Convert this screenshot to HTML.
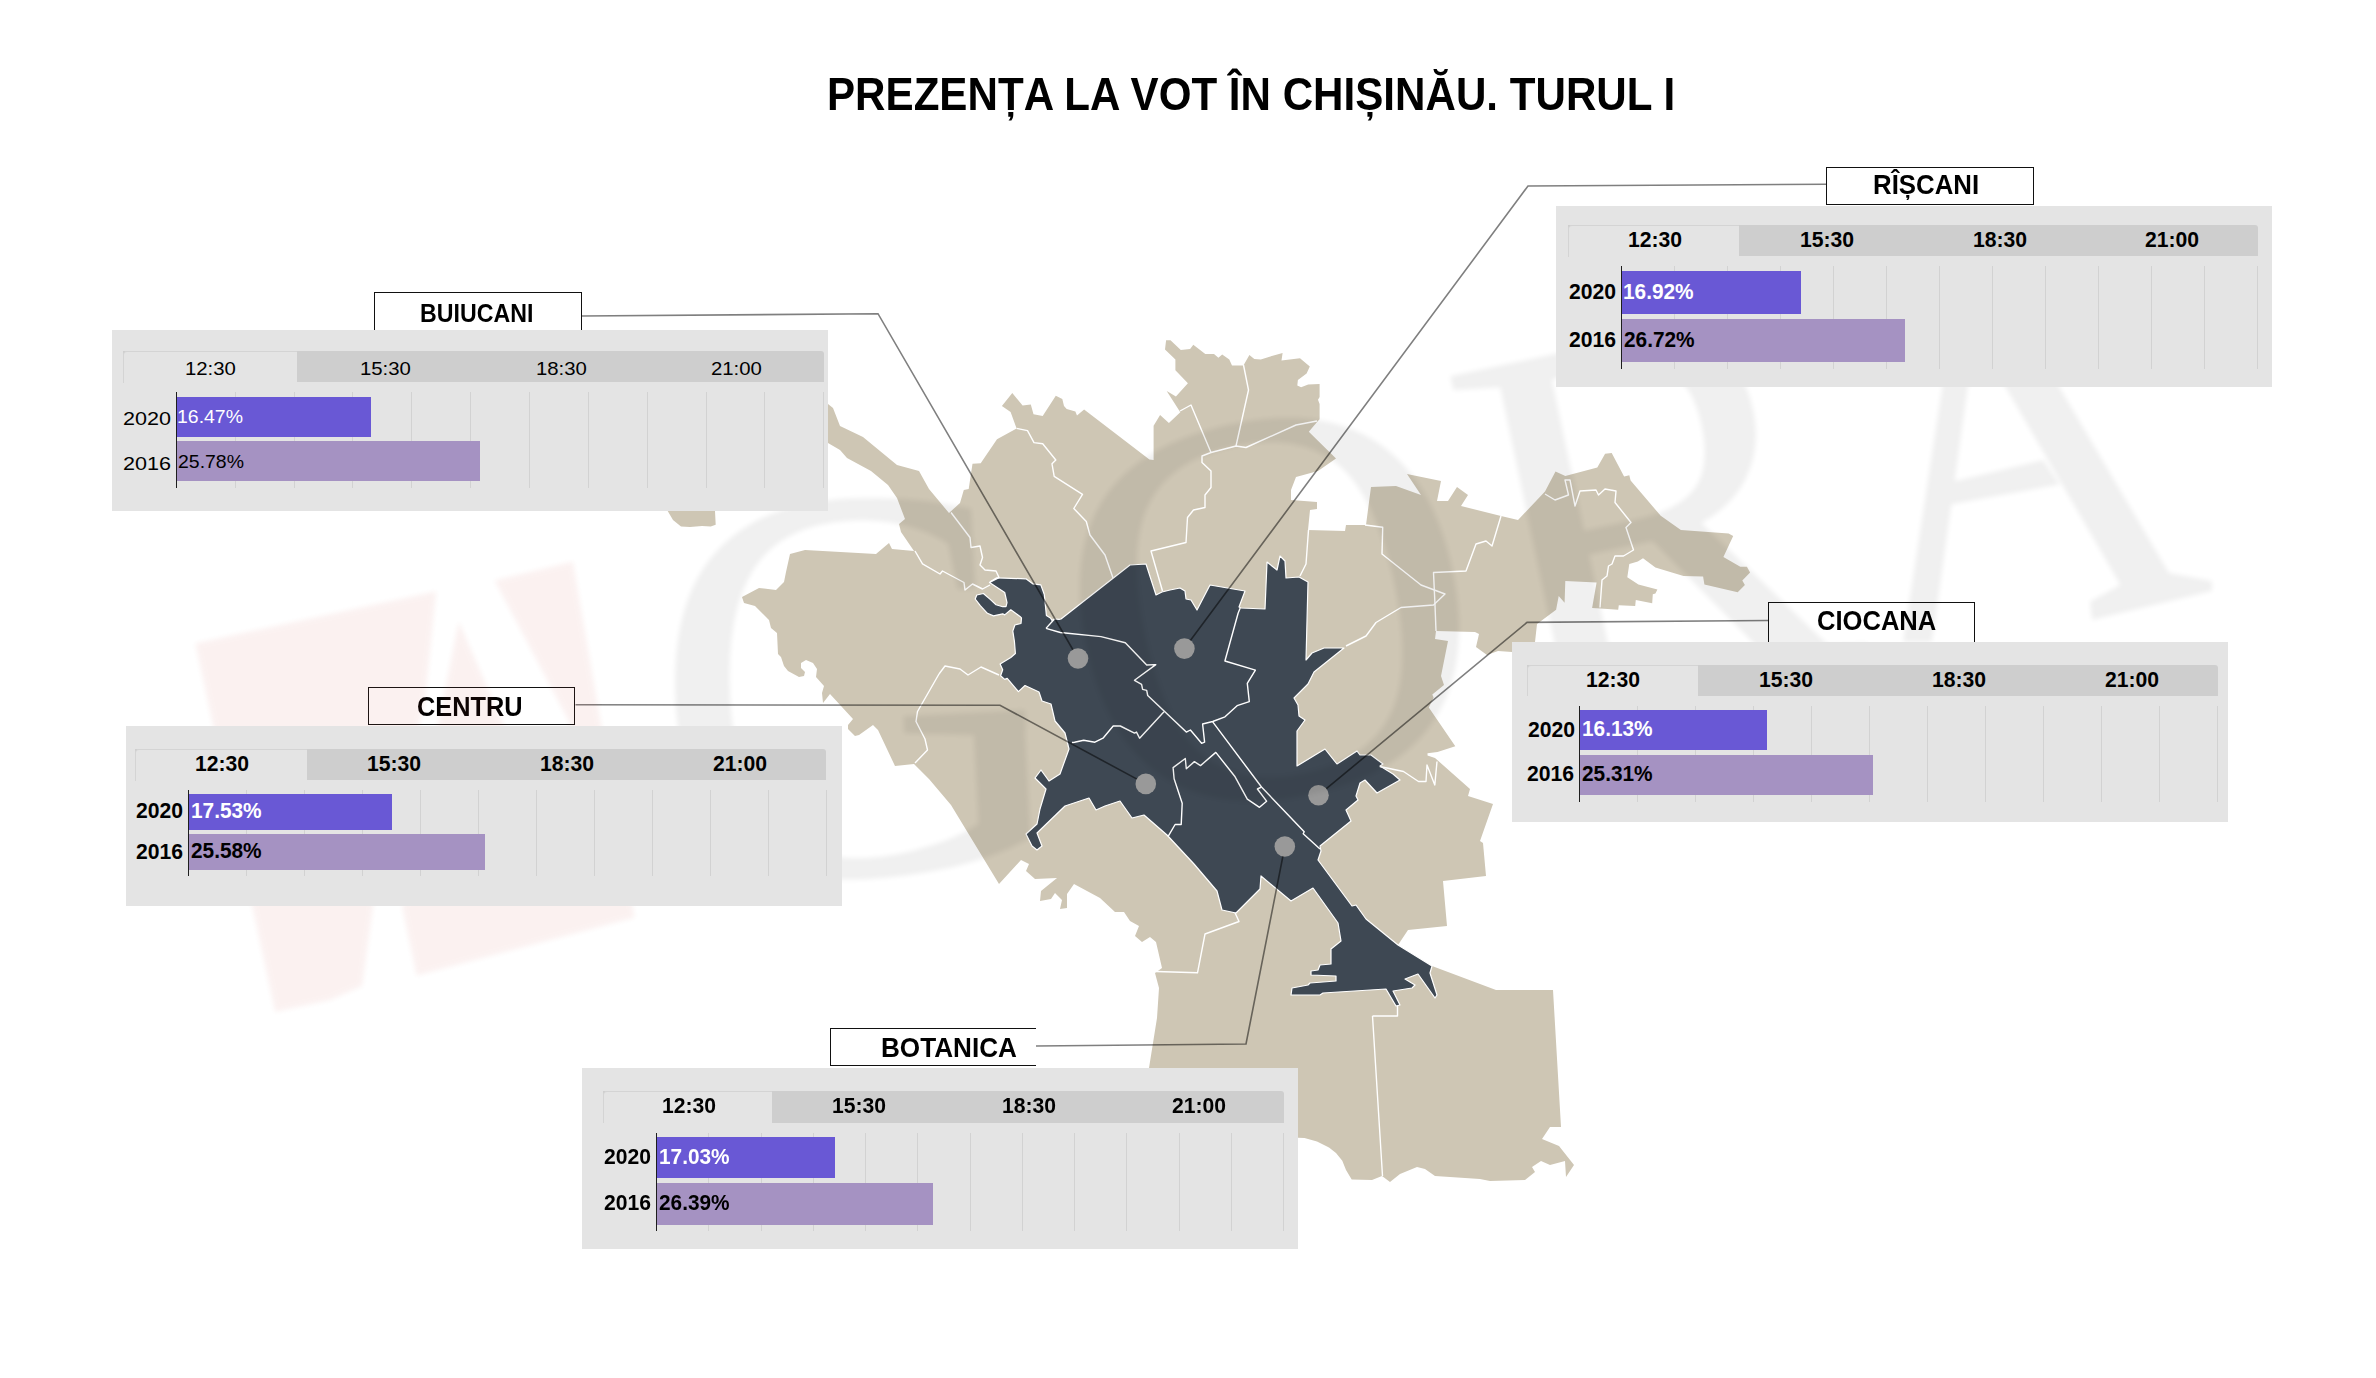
<!DOCTYPE html>
<html><head><meta charset="utf-8"><title>Prezența la vot în Chișinău</title>
<style>
html,body{margin:0;padding:0;background:#fff;}
body{width:2376px;height:1378px;position:relative;overflow:hidden;font-family:"Liberation Sans",sans-serif;color:#000;}
.a{position:absolute;}
.title{position:absolute;left:0;width:2502px;top:62px;text-align:center;font-weight:bold;font-size:46px;line-height:60px;white-space:nowrap;transform:scaleX(0.918);transform-origin:1251px 0;}
.box{position:absolute;background:#e4e4e4;}
.tabrow{position:absolute;background:#cecece;border-top-right-radius:3px;}
.tab1{position:absolute;background:#e4e4e4;border-top:1px solid #d4d4d4;border-left:1px solid #d4d4d4;border-top-left-radius:4px;box-sizing:border-box;}
.tt{position:absolute;text-align:center;font-size:22.5px;font-weight:bold;white-space:nowrap;}
.alt .tt{font-size:19px;}
.alt .tt{font-weight:normal;}
.g{position:absolute;width:1px;background:#d2d2d2;}
.ax{position:absolute;width:1.4px;background:#1e1e1e;}
.bar{position:absolute;}
.yr{position:absolute;text-align:right;font-size:22.5px;font-weight:bold;white-space:nowrap;}
.alt .yr{font-size:19px;}
.alt .yr{font-weight:normal;}
.val{position:absolute;font-size:22.5px;font-weight:bold;white-space:nowrap;transform-origin:0 50%;transform:scaleX(0.95);}
.alt .val{font-size:20px;transform:scaleX(1.05);}
.alt .val{font-weight:normal;}
.lbl{position:absolute;background:#fff;border:1px solid #111;box-sizing:border-box;text-align:center;font-weight:bold;font-size:27.5px;white-space:nowrap;}
.lbl span{display:inline-block;transform:scaleX(0.93);}
svg{position:absolute;left:0;top:0;}
</style></head><body>

<svg width="2376" height="1378" viewBox="0 0 2376 1378" xmlns="http://www.w3.org/2000/svg">
<polygon points="800.0,398.0 828.0,404.0 833.0,408.0 840.0,426.0 863.0,437.0 897.0,465.0 919.0,471.0 929.0,489.0 949.0,513.0 960.0,503.0 963.8,490.0 968.7,488.9 972.5,463.8 980.7,463.3 997.0,439.3 1016.6,428.4 1010.6,412.1 1001.9,406.1 1012.3,393.1 1022.6,405.6 1030.8,404.5 1033.5,414.3 1042.7,415.9 1055.8,395.8 1062.3,399.1 1064.0,406.1 1066.7,408.9 1075.4,411.6 1077.0,415.4 1084.1,409.4 1149.4,459.5 1153.6,460.1 1153.6,425.8 1160.1,414.9 1168.9,423.1 1180.3,412.2 1166.7,391.0 1175.9,396.4 1187.9,383.3 1175.4,370.3 1175.4,359.4 1165.0,349.6 1166.1,340.3 1170.5,340.3 1180.8,350.1 1190.1,349.1 1193.3,344.7 1205.3,354.0 1214.0,354.0 1218.4,357.8 1222.2,354.5 1229.3,359.4 1232.0,365.4 1243.4,365.4 1249.4,355.0 1254.3,358.9 1260.8,359.4 1269.6,356.7 1282.6,352.9 1281.5,360.5 1300.0,358.3 1309.8,366.5 1306.6,373.5 1297.9,380.1 1297.3,385.5 1301.1,387.2 1308.2,384.4 1319.6,383.9 1319.6,397.0 1318.0,399.7 1319.6,404.0 1319.6,419.3 1317.5,421.5 1308.8,431.8 1336.0,458.5 1318.0,471.0 1296.0,477.0 1291.0,490.0 1291.0,500.0 1317.0,502.0 1317.0,509.0 1310.0,510.0 1308.0,530.0 1345.0,531.0 1346.0,525.0 1366.0,525.0 1371.0,487.0 1396.0,486.0 1421.0,495.0 1407.0,474.0 1441.0,481.0 1437.0,501.0 1448.0,501.0 1457.0,487.0 1468.0,495.0 1461.0,506.0 1501.0,516.0 1518.0,520.0 1545.0,491.6 1555.5,471.4 1565.3,475.9 1597.3,467.4 1605.1,453.7 1611.7,453.1 1624.1,476.6 1629.3,475.3 1630.6,480.5 1660.7,515.8 1680.9,530.1 1728.6,533.4 1733.2,536.0 1723.4,556.9 1740.3,566.7 1746.9,566.7 1750.1,572.6 1742.3,580.5 1744.9,585.0 1737.7,592.2 1704.4,584.4 1703.1,576.5 1683.5,575.9 1655.4,567.4 1643.0,558.2 1637.8,561.5 1629.3,564.1 1627.3,577.2 1638.4,584.4 1657.4,589.6 1655.4,593.5 1652.8,594.2 1652.2,603.3 1635.8,600.0 1635.2,605.9 1618.8,605.3 1618.2,609.8 1600.6,608.5 1592.1,607.9 1596.6,582.4 1565.3,581.0 1564.6,602.7 1558.7,596.1 1556.1,609.8 1537.0,624.0 1535.0,642.0 1512.0,652.0 1498.0,651.0 1487.0,655.0 1476.0,647.0 1479.0,634.0 1475.0,632.0 1436.0,631.0 1435.0,639.0 1448.0,641.0 1441.0,676.0 1444.0,685.0 1432.3,694.4 1433.6,697.5 1428.8,707.5 1455.3,746.3 1437.5,752.0 1427.5,753.2 1427.5,755.4 1435.0,758.0 1470.0,789.0 1468.0,796.0 1493.0,804.0 1480.0,841.0 1483.0,843.0 1486.0,876.0 1443.0,881.0 1447.0,926.0 1408.0,930.0 1398.0,945.0 1432.0,966.0 1496.0,990.0 1553.0,990.0 1561.0,1127.0 1550.0,1127.0 1542.0,1139.0 1559.0,1146.0 1574.0,1165.0 1566.0,1177.0 1565.0,1161.0 1550.0,1165.0 1541.0,1161.0 1532.0,1167.0 1535.0,1172.0 1525.0,1180.0 1490.0,1181.0 1480.0,1179.0 1435.0,1176.0 1425.0,1169.0 1417.0,1167.0 1400.0,1174.0 1390.0,1182.0 1382.0,1176.0 1372.0,1180.0 1351.7,1179.6 1346.0,1170.0 1342.3,1160.8 1336.0,1153.0 1329.0,1147.5 1317.0,1141.5 1304.5,1138.1 1298.0,1137.7 1200.0,1137.0 1149.0,1068.0 1157.0,1018.0 1159.0,988.0 1155.0,973.0 1162.0,968.0 1156.0,942.0 1150.0,937.0 1142.0,942.0 1135.0,936.0 1139.0,926.0 1130.0,921.0 1124.0,912.0 1115.0,912.0 1100.0,898.0 1074.0,884.0 1067.0,894.0 1067.0,908.0 1060.0,909.0 1062.0,900.0 1055.0,893.0 1051.0,899.0 1040.0,901.0 1041.0,891.0 1057.0,878.0 1035.0,879.0 1026.0,871.0 1029.0,864.0 1021.0,860.0 999.0,884.0 951.0,805.0 929.0,779.0 920.0,770.0 914.0,764.0 895.0,766.0 878.0,730.0 873.0,725.0 859.0,735.0 855.0,736.0 848.0,729.0 848.0,725.0 853.0,719.0 830.0,694.0 823.0,703.0 822.0,693.0 824.0,686.0 816.0,677.0 817.0,669.0 813.0,663.0 806.0,660.0 801.0,663.0 801.0,668.0 805.0,672.0 804.0,676.0 799.0,677.0 788.0,671.0 784.0,666.0 781.0,657.0 778.0,654.0 777.0,633.0 771.0,628.0 769.0,620.0 766.0,617.0 755.0,606.0 744.0,603.0 742.0,597.0 759.0,588.0 776.0,590.0 784.0,582.0 786.0,572.0 790.0,554.0 805.0,550.0 876.0,554.0 889.0,543.0 892.0,549.0 914.0,551.0 901.0,532.0 899.0,524.0 905.0,519.0 897.0,498.0 888.0,485.0 871.0,471.0 847.0,458.0 840.0,450.0 828.0,443.0 800.0,440.0" fill="#cec6b4"/>
<polygon points="667.7,511.0 673.0,520.0 681.0,526.6 690.0,527.0 702.0,526.0 710.7,526.6 715.7,524.8 715.0,511.0" fill="#cec6b4"/>
<polygon points="989.5,582.4 996.6,577.8 1026.0,578.8 1033.0,583.9 1040.8,584.9 1044.3,594.5 1046.4,615.4 1050.4,617.9 1052.0,620.4 1055.0,619.0 1059.0,619.4 1061.0,619.0 1130.0,565.0 1146.0,564.0 1156.0,595.0 1162.0,592.0 1170.0,590.0 1175.0,589.0 1180.0,588.0 1185.0,591.0 1186.0,599.0 1191.0,600.0 1197.0,610.0 1210.0,585.0 1245.0,591.0 1239.0,607.0 1241.0,608.0 1265.0,609.0 1267.0,562.0 1277.0,570.0 1280.0,556.0 1285.0,561.0 1286.0,578.0 1299.0,577.0 1308.0,582.0 1306.0,660.0 1312.0,653.0 1324.0,648.0 1344.0,648.0 1314.0,672.0 1308.0,684.0 1294.0,698.0 1298.0,705.0 1299.0,716.0 1305.0,720.0 1297.0,731.0 1297.0,766.0 1325.0,749.0 1337.0,764.0 1357.0,751.0 1360.0,755.0 1371.0,755.0 1383.0,764.0 1380.0,766.0 1393.0,774.0 1400.0,780.0 1377.0,793.0 1365.0,780.0 1360.0,783.0 1356.0,796.0 1358.0,800.0 1346.0,810.0 1351.0,821.0 1320.0,846.0 1321.0,851.0 1318.0,860.0 1352.0,906.0 1356.0,905.0 1366.0,919.0 1398.0,945.0 1432.0,966.0 1430.0,973.0 1437.0,995.0 1435.0,998.0 1418.0,974.0 1405.0,979.0 1415.0,985.0 1412.0,988.0 1393.0,991.0 1400.0,1005.0 1396.0,1006.0 1386.0,989.0 1323.0,993.0 1320.0,995.0 1291.0,995.0 1292.0,988.0 1308.0,985.0 1310.0,983.0 1336.0,981.0 1336.0,976.0 1311.0,975.0 1311.0,971.0 1318.0,970.0 1320.0,965.0 1331.0,964.0 1331.0,949.0 1341.0,941.0 1338.0,923.0 1313.0,888.0 1291.0,901.0 1261.0,876.0 1260.0,889.0 1236.0,913.0 1222.0,910.0 1217.0,891.0 1194.0,864.0 1167.0,835.0 1144.0,815.0 1132.0,818.0 1120.0,801.0 1105.0,806.0 1096.0,810.0 1089.0,798.0 1065.0,806.0 1037.0,833.0 1042.0,846.0 1037.0,850.0 1032.0,846.0 1026.0,834.0 1037.0,824.0 1040.0,809.0 1046.0,789.0 1035.0,778.0 1041.0,770.0 1049.0,781.0 1060.0,774.0 1069.0,749.0 1065.0,733.0 1055.0,721.0 1051.0,704.0 1042.0,701.0 1039.0,692.0 1025.0,685.5 1018.4,691.6 1007.2,678.4 1004.7,679.4 1000.6,675.8 1002.7,669.7 1000.1,664.1 1010.8,657.5 1015.4,653.5 1014.4,641.3 1012.8,631.1 1014.9,625.0 1021.0,623.5 1021.5,617.9 1020.0,616.4 1010.8,609.8 1004.7,614.9 1002.7,613.8 993.5,615.9 987.4,613.3 980.3,605.7 975.2,599.0 976.8,595.0 983.4,593.5 990.5,599.6 996.0,604.7 1002.7,606.7 1006.0,606.7 1007.0,602.7 1004.7,592.5" fill="#3e4853" stroke="#fff" stroke-width="1.2" stroke-linejoin="round"/>
<polyline points="1046.0,628.4 1060.3,632.5 1101.0,636.6 1125.3,642.7 1146.7,665.0 1155.8,664.6 1134.5,680.3 1141.6,684.3 1142.6,689.4 1146.7,690.4 1147.7,695.5 1186.3,732.1 1190.4,730.0 1201.6,743.3 1204.6,742.2 1202.6,724.0 1212.7,721.5 1225.0,716.8 1237.1,705.7 1249.3,701.6 1247.3,683.3 1255.4,670.1 1224.9,661.0 1238.1,613.2 1240.2,608.1" fill="none" stroke="#fff" stroke-width="1.4" stroke-linejoin="round"/>
<polyline points="1046.0,628.4 1054.2,619.3" fill="none" stroke="#fff" stroke-width="1.4" stroke-linejoin="round"/>
<polyline points="1072.0,742.5 1074.5,742.2 1083.7,740.2 1094.9,742.2 1103.0,738.2 1113.2,726.0 1120.3,726.0 1134.5,733.1 1136.5,732.1 1139.6,738.2 1164.0,711.8" fill="none" stroke="#fff" stroke-width="1.4" stroke-linejoin="round"/>
<polyline points="1168.0,836.7 1175.1,824.5 1181.2,824.5 1182.2,803.2 1174.1,778.8 1173.1,767.6 1185.3,758.5 1186.3,768.7 1194.4,761.6 1200.5,765.6 1215.8,752.4 1235.1,776.8 1247.3,799.1 1259.5,807.3 1266.6,801.2 1257.4,789.0 1261.5,787.0" fill="none" stroke="#fff" stroke-width="1.4" stroke-linejoin="round"/>
<polyline points="1212.7,721.9 1261.5,787.0 1304.2,831.7 1303.2,833.7 1320.0,849.0" fill="none" stroke="#fff" stroke-width="1.4" stroke-linejoin="round"/>
<polyline points="951.0,512.5 970.0,537.5 971.0,547.5 980.0,546.0 982.5,557.5 980.0,565.0 985.0,570.0 996.0,571.0 999.0,577.5 990.0,582.0" fill="none" stroke="#fff" stroke-width="1.4" stroke-linejoin="round"/>
<polyline points="915.0,551.0 922.5,563.8 940.0,574.0 942.5,571.0 964.0,582.5 965.0,590.0 972.5,584.0 982.5,589.0 990.0,585.0" fill="none" stroke="#fff" stroke-width="1.4" stroke-linejoin="round"/>
<polyline points="1016.6,428.4 1027.5,430.6 1034.0,442.6 1042.7,443.7 1055.8,460.0 1052.0,463.8 1054.2,476.4 1082.5,494.3 1073.8,508.5 1086.3,521.5 1090.0,535.0 1105.0,555.0 1113.0,578.0" fill="none" stroke="#fff" stroke-width="1.4" stroke-linejoin="round"/>
<polyline points="1180.0,411.0 1191.0,405.0 1211.0,452.5 1202.0,456.0 1202.0,462.5 1211.0,471.0 1211.0,487.5 1205.0,495.0 1205.0,507.5 1193.5,510.0 1187.5,517.5 1186.0,542.5 1151.0,551.0 1162.5,591.0" fill="none" stroke="#fff" stroke-width="1.4" stroke-linejoin="round"/>
<polyline points="1211.0,452.5 1236.0,446.0 1246.0,447.5 1296.0,425.0 1317.0,421.0" fill="none" stroke="#fff" stroke-width="1.4" stroke-linejoin="round"/>
<polyline points="1243.5,365.0 1248.5,390.0 1236.0,446.0" fill="none" stroke="#fff" stroke-width="1.4" stroke-linejoin="round"/>
<polyline points="1308.5,530.0 1306.0,564.0 1300.0,576.0" fill="none" stroke="#fff" stroke-width="1.4" stroke-linejoin="round"/>
<polyline points="1365.0,525.0 1382.7,527.3 1382.0,554.0 1421.0,585.0 1445.0,594.0 1433.5,605.0 1401.0,607.5 1376.0,622.5 1366.0,636.0 1346.0,646.0" fill="none" stroke="#fff" stroke-width="1.4" stroke-linejoin="round"/>
<polyline points="1435.0,605.0 1433.5,572.5 1466.0,571.0 1476.0,544.0 1486.0,541.0 1492.0,546.0 1501.0,516.0" fill="none" stroke="#fff" stroke-width="1.4" stroke-linejoin="round"/>
<polyline points="1436.0,631.0 1435.0,605.0" fill="none" stroke="#fff" stroke-width="1.4" stroke-linejoin="round"/>
<polyline points="1545.0,494.0 1555.0,500.0 1568.5,495.0 1565.0,480.0 1570.0,480.0 1575.0,506.0 1580.0,491.0 1596.0,490.0 1598.5,495.0 1605.0,489.0 1616.0,491.0 1615.0,502.5 1631.0,522.5 1626.0,527.5 1633.5,550.0 1623.5,556.0 1615.0,556.0 1612.0,564.0 1608.5,566.0 1607.0,576.0 1602.0,580.0 1600.0,607.5" fill="none" stroke="#fff" stroke-width="1.4" stroke-linejoin="round"/>
<polyline points="939.0,674.0 917.5,711.5 916.0,721.5 925.0,739.0 927.5,750.0 915.0,763.0" fill="none" stroke="#fff" stroke-width="1.4" stroke-linejoin="round"/>
<polyline points="939.0,674.0 945.0,666.0 960.0,669.0 968.0,675.0 981.0,667.0 999.0,675.0" fill="none" stroke="#fff" stroke-width="1.4" stroke-linejoin="round"/>
<polyline points="1235.0,912.8 1239.0,921.5 1205.0,934.0 1197.5,972.8 1156.0,971.5" fill="none" stroke="#fff" stroke-width="1.4" stroke-linejoin="round"/>
<polyline points="1372.5,1016.0 1382.5,1176.0" fill="none" stroke="#fff" stroke-width="1.4" stroke-linejoin="round"/>
<polyline points="1372.5,1016.0 1397.5,1016.0 1397.5,1006.0" fill="none" stroke="#fff" stroke-width="1.4" stroke-linejoin="round"/>
<polyline points="1379.8,766.5 1403.5,771.5 1418.5,781.5 1426.0,781.5 1427.0,765.0 1434.8,785.0 1437.0,761.5" fill="none" stroke="#fff" stroke-width="1.4" stroke-linejoin="round"/>
<polyline points="581.4,316.0 878.0,313.7 1078.0,658.5" fill="none" stroke="#000" stroke-opacity="0.5" stroke-width="1.6"/>
<polyline points="1826.0,184.3 1528.0,186.0 1184.4,648.6" fill="none" stroke="#000" stroke-opacity="0.5" stroke-width="1.6"/>
<polyline points="575.5,704.8 1000.0,705.3 1145.8,783.9" fill="none" stroke="#000" stroke-opacity="0.5" stroke-width="1.6"/>
<polyline points="1768.2,620.5 1527.0,622.4 1318.5,795.2" fill="none" stroke="#000" stroke-opacity="0.5" stroke-width="1.6"/>
<polyline points="1036.0,1046.0 1246.0,1044.0 1284.8,846.5" fill="none" stroke="#000" stroke-opacity="0.5" stroke-width="1.6"/>
<circle cx="1078" cy="658.5" r="10.3" fill="#999999"/>
<circle cx="1184.4" cy="648.6" r="10.3" fill="#999999"/>
<circle cx="1145.8" cy="783.9" r="10.3" fill="#999999"/>
<circle cx="1318.5" cy="795.2" r="10.3" fill="#999999"/>
<circle cx="1284.8" cy="846.5" r="10.3" fill="#999999"/>
</svg>
<div style="position:absolute;left:826.85px;top:71.90px;font-size:45.65px;line-height:45.65px;font-weight:bold;white-space:nowrap;color:#000;transform:scaleX(0.9232);transform-origin:0 0;">PREZENȚA LA VOT ÎN CHIȘINĂU. TURUL I</div>
<div class="lbl" style="left:374.2px;top:292.2px;width:207.4px;height:39.8px;"></div>
<div style="position:absolute;left:420.28px;top:300.66px;font-size:25.22px;line-height:25.22px;font-weight:bold;white-space:nowrap;color:#000;transform:scaleX(0.9192);transform-origin:0 0;">BUIUCANI</div>
<div class="lbl" style="left:368.3px;top:686.5px;width:207.2px;height:38px;"></div>
<div style="position:absolute;left:417.19px;top:693.47px;font-size:27.68px;line-height:27.68px;font-weight:bold;white-space:nowrap;color:#000;transform:scaleX(0.9151);transform-origin:0 0;">CENTRU</div>
<div class="lbl" style="left:1826.1px;top:166.5px;width:207.5px;height:38px;"></div>
<div style="position:absolute;left:1872.79px;top:171.42px;font-size:27.97px;line-height:27.97px;font-weight:bold;white-space:nowrap;color:#000;transform:scaleX(0.923);transform-origin:0 0;">RÎȘCANI</div>
<div class="lbl" style="left:1768.3px;top:602.3px;width:207px;height:41.7px;"></div>
<div style="position:absolute;left:1816.88px;top:607.42px;font-size:27.97px;line-height:27.97px;font-weight:bold;white-space:nowrap;color:#000;transform:scaleX(0.914);transform-origin:0 0;">CIOCANA</div>
<div class="lbl" style="left:830.3px;top:1028.3px;width:205.7px;height:37.9px;border-right:none;"></div>
<div style="position:absolute;left:880.67px;top:1033.72px;font-size:27.39px;line-height:27.39px;font-weight:bold;white-space:nowrap;color:#000;transform:scaleX(0.9542);transform-origin:0 0;">BOTANICA</div>
<svg width="2376" height="1378" viewBox="0 0 2376 1378" xmlns="http://www.w3.org/2000/svg">
<defs><filter id="bl" x="-5%" y="-5%" width="110%" height="110%"><feGaussianBlur stdDeviation="2.5"/></filter></defs>
<g opacity="0.065" fill="#c83c32" filter="url(#bl)">
<path d="M195.4,643.4 L436.0,591.4 L425.0,700.0 L373.0,906.0 L362.0,986.0 L330.0,1000.0 L275.2,1011.7 Z M458.8,621.8 L510.0,740.0 L435.0,740.0 Z M494.7,580.5 L572.8,561.8 L634.4,917.4 L416.7,975.4 L402.0,906.0 L571.5,726.0 Z"/>
</g>
<g opacity="0.06" fill="#000" filter="url(#bl)">
<path d="M1955.6,300.0 L1980.0,300.0 L1937.5,603.5 L1931.7,642.0 L1903.0,642.0 L1909.0,603.5 Z M1955.0,300.0 L2008.0,300.0 L2169.0,573.0 L2120.4,585.0 Z M1951.8,482.0 L2043.2,460.0 L2059.5,484.5 L1947.7,505.0 Z M2090.0,601.5 L2120.4,585.0 L2169.0,573.0 L2212.0,581.0 L2212.0,591.0 L2092.0,620.0 Z"/>
<path d="M1410 100Q1290 40 1100 6.0Q918 -20 774 -20Q448 -20 266.0 156.0Q84 332 84 655Q84 1007 260.5 1181.5Q437 1356 778 1356Q1022 1356 1249 1296V1008H1182L1155 1174Q1086 1223 989.5 1249.5Q893 1276 786 1276Q530 1276 411.5 1123.5Q293 971 293 657Q293 362 415.0 209.5Q537 57 776 57Q900 57 1030 90Q1150 120 1215 160V480L950 500V560H1415V500L1410 480Z" transform="matrix(0.26164,-0.01371,-0.01450,-0.27662,663.05,884.43)"/>
<path d="M293 672Q293 349 401.0 204.0Q509 59 739 59Q968 59 1077.0 204.0Q1186 349 1186 672Q1186 993 1077.5 1134.5Q969 1276 739 1276Q508 1276 400.5 1134.5Q293 993 293 672ZM84 672Q84 1356 739 1356Q1063 1356 1229.0 1182.5Q1395 1009 1395 672Q1395 330 1227.0 155.0Q1059 -20 739 -20Q420 -20 252.0 154.5Q84 329 84 672Z" transform="matrix(0.27877,-0.05925,-0.05718,-0.26899,1101.83,833.08)"/>
<path d="M424 588V80L627 53V0H72V53L231 80V1262L59 1288V1341H638Q890 1341 1010.0 1256.0Q1130 1171 1130 983Q1130 849 1057.0 751.5Q984 654 855 616L1218 80L1363 53V0H1042L665 588ZM931 969Q931 1122 856.5 1186.5Q782 1251 595 1251H424V678H601Q780 678 855.5 744.5Q931 811 931 969Z" transform="matrix(0.26410,-0.05614,-0.05614,-0.26410,1510.04,733.60)"/>
</g>
</svg>
<div class="alt">
<div class="box" style="left:112px;top:330px;width:716px;height:181px"></div>
<div class="tabrow" style="left:123px;top:350.5px;width:700.6px;height:31.9px"></div>
<div class="tab1" style="left:123px;top:350.5px;width:174px;height:32.5px"></div>
<div style="position:absolute;left:185.22px;top:360.61px;font-size:17.7px;line-height:17.7px;font-weight:normal;white-space:nowrap;color:#000;transform:scaleX(1.15);transform-origin:0 0;">12:30</div>
<div style="position:absolute;left:360.37px;top:360.61px;font-size:17.7px;line-height:17.7px;font-weight:normal;white-space:nowrap;color:#000;transform:scaleX(1.15);transform-origin:0 0;">15:30</div>
<div style="position:absolute;left:535.52px;top:360.61px;font-size:17.7px;line-height:17.7px;font-weight:normal;white-space:nowrap;color:#000;transform:scaleX(1.15);transform-origin:0 0;">18:30</div>
<div style="position:absolute;left:710.98px;top:360.61px;font-size:17.7px;line-height:17.7px;font-weight:normal;white-space:nowrap;color:#000;transform:scaleX(1.15);transform-origin:0 0;">21:00</div>
<div class="g" style="left:234.7px;top:392.3px;height:95.3px"></div>
<div class="g" style="left:293.5px;top:392.3px;height:95.3px"></div>
<div class="g" style="left:352.4px;top:392.3px;height:95.3px"></div>
<div class="g" style="left:411.2px;top:392.3px;height:95.3px"></div>
<div class="g" style="left:470.1px;top:392.3px;height:95.3px"></div>
<div class="g" style="left:528.9px;top:392.3px;height:95.3px"></div>
<div class="g" style="left:587.8px;top:392.3px;height:95.3px"></div>
<div class="g" style="left:646.6px;top:392.3px;height:95.3px"></div>
<div class="g" style="left:705.5px;top:392.3px;height:95.3px"></div>
<div class="g" style="left:764.3px;top:392.3px;height:95.3px"></div>
<div class="g" style="left:823.2px;top:392.3px;height:95.3px"></div>
<div class="bar" style="left:176.3px;top:396.7px;width:194.5px;height:40px;background:#6958d5"></div>
<div style="position:absolute;left:123.23px;top:410.96px;font-size:17.7px;line-height:17.7px;font-weight:normal;white-space:nowrap;color:#000;transform:scaleX(1.22);transform-origin:0 0;">2020</div>
<div style="position:absolute;left:177.24px;top:409.46px;font-size:17.7px;line-height:17.7px;font-weight:normal;white-space:nowrap;color:#fff;transform:scaleX(1.1);transform-origin:0 0;">16.47%</div>
<div class="bar" style="left:176.3px;top:441.4px;width:303.8px;height:39.7px;background:#a592c2"></div>
<div style="position:absolute;left:123.23px;top:455.51px;font-size:17.7px;line-height:17.7px;font-weight:normal;white-space:nowrap;color:#000;transform:scaleX(1.22);transform-origin:0 0;">2016</div>
<div style="position:absolute;left:177.83px;top:454.01px;font-size:17.7px;line-height:17.7px;font-weight:normal;white-space:nowrap;color:#000;transform:scaleX(1.1);transform-origin:0 0;">25.78%</div>
<div class="ax" style="left:175.6px;top:392.3px;height:95.3px"></div>
</div>
<div class="">
<div class="box" style="left:126px;top:726px;width:716px;height:179.6px"></div>
<div class="tabrow" style="left:135.2px;top:748.7px;width:690.5px;height:31.3px"></div>
<div class="tab1" style="left:135.2px;top:748.7px;width:171.6px;height:31.9px"></div>
<div style="position:absolute;left:194.73px;top:753.14px;font-size:21.8px;line-height:21.8px;font-weight:bold;white-space:nowrap;color:#000;transform:scaleX(0.97);transform-origin:0 0;">12:30</div>
<div style="position:absolute;left:367.36px;top:753.14px;font-size:21.8px;line-height:21.8px;font-weight:bold;white-space:nowrap;color:#000;transform:scaleX(0.97);transform-origin:0 0;">15:30</div>
<div style="position:absolute;left:539.98px;top:753.14px;font-size:21.8px;line-height:21.8px;font-weight:bold;white-space:nowrap;color:#000;transform:scaleX(0.97);transform-origin:0 0;">18:30</div>
<div style="position:absolute;left:712.93px;top:753.14px;font-size:21.8px;line-height:21.8px;font-weight:bold;white-space:nowrap;color:#000;transform:scaleX(0.97);transform-origin:0 0;">21:00</div>
<div class="g" style="left:245.9px;top:789.8px;height:86.6px"></div>
<div class="g" style="left:303.9px;top:789.8px;height:86.6px"></div>
<div class="g" style="left:361.9px;top:789.8px;height:86.6px"></div>
<div class="g" style="left:419.9px;top:789.8px;height:86.6px"></div>
<div class="g" style="left:477.9px;top:789.8px;height:86.6px"></div>
<div class="g" style="left:535.9px;top:789.8px;height:86.6px"></div>
<div class="g" style="left:593.9px;top:789.8px;height:86.6px"></div>
<div class="g" style="left:651.9px;top:789.8px;height:86.6px"></div>
<div class="g" style="left:709.9px;top:789.8px;height:86.6px"></div>
<div class="g" style="left:767.9px;top:789.8px;height:86.6px"></div>
<div class="g" style="left:825.9px;top:789.8px;height:86.6px"></div>
<div class="bar" style="left:188.4px;top:794.2px;width:203.7px;height:35.5px;background:#6958d5"></div>
<div style="position:absolute;left:136.30px;top:800.44px;font-size:21.8px;line-height:21.8px;font-weight:bold;white-space:nowrap;color:#000;transform:scaleX(0.97);transform-origin:0 0;">2020</div>
<div style="position:absolute;left:190.55px;top:800.14px;font-size:21.8px;line-height:21.8px;font-weight:bold;white-space:nowrap;color:#fff;transform:scaleX(0.955);transform-origin:0 0;">17.53%</div>
<div class="bar" style="left:188.4px;top:834.2px;width:296.9px;height:35.7px;background:#a592c2"></div>
<div style="position:absolute;left:136.09px;top:840.54px;font-size:21.8px;line-height:21.8px;font-weight:bold;white-space:nowrap;color:#000;transform:scaleX(0.97);transform-origin:0 0;">2016</div>
<div style="position:absolute;left:191.18px;top:840.24px;font-size:21.8px;line-height:21.8px;font-weight:bold;white-space:nowrap;color:#000;transform:scaleX(0.955);transform-origin:0 0;">25.58%</div>
<div class="ax" style="left:187.7px;top:789.8px;height:86.6px"></div>
</div>
<div class="">
<div class="box" style="left:1556px;top:206.1px;width:716px;height:180.7px"></div>
<div class="tabrow" style="left:1568.4px;top:224.9px;width:689.5px;height:31.3px"></div>
<div class="tab1" style="left:1568.4px;top:224.9px;width:171px;height:31.9px"></div>
<div style="position:absolute;left:1627.81px;top:229.34px;font-size:21.8px;line-height:21.8px;font-weight:bold;white-space:nowrap;color:#000;transform:scaleX(0.97);transform-origin:0 0;">12:30</div>
<div style="position:absolute;left:1800.18px;top:229.34px;font-size:21.8px;line-height:21.8px;font-weight:bold;white-space:nowrap;color:#000;transform:scaleX(0.97);transform-origin:0 0;">15:30</div>
<div style="position:absolute;left:1972.56px;top:229.34px;font-size:21.8px;line-height:21.8px;font-weight:bold;white-space:nowrap;color:#000;transform:scaleX(0.97);transform-origin:0 0;">18:30</div>
<div style="position:absolute;left:2145.25px;top:229.34px;font-size:21.8px;line-height:21.8px;font-weight:bold;white-space:nowrap;color:#000;transform:scaleX(0.97);transform-origin:0 0;">21:00</div>
<div class="g" style="left:1673.8px;top:265.8px;height:103.3px"></div>
<div class="g" style="left:1726.9px;top:265.8px;height:103.3px"></div>
<div class="g" style="left:1779.9px;top:265.8px;height:103.3px"></div>
<div class="g" style="left:1833px;top:265.8px;height:103.3px"></div>
<div class="g" style="left:1886px;top:265.8px;height:103.3px"></div>
<div class="g" style="left:1939.1px;top:265.8px;height:103.3px"></div>
<div class="g" style="left:1992.1px;top:265.8px;height:103.3px"></div>
<div class="g" style="left:2045.2px;top:265.8px;height:103.3px"></div>
<div class="g" style="left:2098.2px;top:265.8px;height:103.3px"></div>
<div class="g" style="left:2151.3px;top:265.8px;height:103.3px"></div>
<div class="g" style="left:2204.3px;top:265.8px;height:103.3px"></div>
<div class="g" style="left:2257.4px;top:265.8px;height:103.3px"></div>
<div class="bar" style="left:1621.3px;top:271px;width:179.9px;height:43px;background:#6958d5"></div>
<div style="position:absolute;left:1569.20px;top:280.99px;font-size:21.8px;line-height:21.8px;font-weight:bold;white-space:nowrap;color:#000;transform:scaleX(0.97);transform-origin:0 0;">2020</div>
<div style="position:absolute;left:1623.45px;top:280.69px;font-size:21.8px;line-height:21.8px;font-weight:bold;white-space:nowrap;color:#fff;transform:scaleX(0.955);transform-origin:0 0;">16.92%</div>
<div class="bar" style="left:1621.3px;top:318.9px;width:283.9px;height:43.2px;background:#a592c2"></div>
<div style="position:absolute;left:1568.99px;top:328.99px;font-size:21.8px;line-height:21.8px;font-weight:bold;white-space:nowrap;color:#000;transform:scaleX(0.97);transform-origin:0 0;">2016</div>
<div style="position:absolute;left:1624.08px;top:328.69px;font-size:21.8px;line-height:21.8px;font-weight:bold;white-space:nowrap;color:#000;transform:scaleX(0.955);transform-origin:0 0;">26.72%</div>
<div class="ax" style="left:1620.6px;top:265.8px;height:103.3px"></div>
</div>
<div class="">
<div class="box" style="left:1512px;top:642.2px;width:716px;height:179.4px"></div>
<div class="tabrow" style="left:1526.5px;top:664.5px;width:691.4px;height:31.2px"></div>
<div class="tab1" style="left:1526.5px;top:664.5px;width:171.5px;height:31.8px"></div>
<div style="position:absolute;left:1586.15px;top:668.89px;font-size:21.8px;line-height:21.8px;font-weight:bold;white-space:nowrap;color:#000;transform:scaleX(0.97);transform-origin:0 0;">12:30</div>
<div style="position:absolute;left:1759.00px;top:668.89px;font-size:21.8px;line-height:21.8px;font-weight:bold;white-space:nowrap;color:#000;transform:scaleX(0.97);transform-origin:0 0;">15:30</div>
<div style="position:absolute;left:1931.85px;top:668.89px;font-size:21.8px;line-height:21.8px;font-weight:bold;white-space:nowrap;color:#000;transform:scaleX(0.97);transform-origin:0 0;">18:30</div>
<div style="position:absolute;left:2105.01px;top:668.89px;font-size:21.8px;line-height:21.8px;font-weight:bold;white-space:nowrap;color:#000;transform:scaleX(0.97);transform-origin:0 0;">21:00</div>
<div class="g" style="left:1637.1px;top:705.8px;height:95.8px"></div>
<div class="g" style="left:1695.1px;top:705.8px;height:95.8px"></div>
<div class="g" style="left:1753.1px;top:705.8px;height:95.8px"></div>
<div class="g" style="left:1811.1px;top:705.8px;height:95.8px"></div>
<div class="g" style="left:1869.1px;top:705.8px;height:95.8px"></div>
<div class="g" style="left:1927.1px;top:705.8px;height:95.8px"></div>
<div class="g" style="left:1985.1px;top:705.8px;height:95.8px"></div>
<div class="g" style="left:2043.1px;top:705.8px;height:95.8px"></div>
<div class="g" style="left:2101.1px;top:705.8px;height:95.8px"></div>
<div class="g" style="left:2159.1px;top:705.8px;height:95.8px"></div>
<div class="g" style="left:2217.1px;top:705.8px;height:95.8px"></div>
<div class="bar" style="left:1579.6px;top:710.2px;width:187.4px;height:39.7px;background:#6958d5"></div>
<div style="position:absolute;left:1527.50px;top:718.54px;font-size:21.8px;line-height:21.8px;font-weight:bold;white-space:nowrap;color:#000;transform:scaleX(0.97);transform-origin:0 0;">2020</div>
<div style="position:absolute;left:1581.75px;top:718.24px;font-size:21.8px;line-height:21.8px;font-weight:bold;white-space:nowrap;color:#fff;transform:scaleX(0.955);transform-origin:0 0;">16.13%</div>
<div class="bar" style="left:1579.6px;top:755.1px;width:293.9px;height:39.7px;background:#a592c2"></div>
<div style="position:absolute;left:1527.29px;top:763.44px;font-size:21.8px;line-height:21.8px;font-weight:bold;white-space:nowrap;color:#000;transform:scaleX(0.97);transform-origin:0 0;">2016</div>
<div style="position:absolute;left:1582.38px;top:763.14px;font-size:21.8px;line-height:21.8px;font-weight:bold;white-space:nowrap;color:#000;transform:scaleX(0.955);transform-origin:0 0;">25.31%</div>
<div class="ax" style="left:1578.9px;top:705.8px;height:95.8px"></div>
</div>
<div class="">
<div class="box" style="left:582px;top:1068.3px;width:716px;height:180.3px"></div>
<div class="tabrow" style="left:603.4px;top:1090.6px;width:680.5px;height:32.1px"></div>
<div class="tab1" style="left:603.4px;top:1090.6px;width:168.6px;height:32.7px"></div>
<div style="position:absolute;left:661.68px;top:1095.44px;font-size:21.8px;line-height:21.8px;font-weight:bold;white-space:nowrap;color:#000;transform:scaleX(0.97);transform-origin:0 0;">12:30</div>
<div style="position:absolute;left:831.81px;top:1095.44px;font-size:21.8px;line-height:21.8px;font-weight:bold;white-space:nowrap;color:#000;transform:scaleX(0.97);transform-origin:0 0;">15:30</div>
<div style="position:absolute;left:1001.93px;top:1095.44px;font-size:21.8px;line-height:21.8px;font-weight:bold;white-space:nowrap;color:#000;transform:scaleX(0.97);transform-origin:0 0;">18:30</div>
<div style="position:absolute;left:1172.38px;top:1095.44px;font-size:21.8px;line-height:21.8px;font-weight:bold;white-space:nowrap;color:#000;transform:scaleX(0.97);transform-origin:0 0;">21:00</div>
<div class="g" style="left:708.2px;top:1132.8px;height:98.7px"></div>
<div class="g" style="left:760.5px;top:1132.8px;height:98.7px"></div>
<div class="g" style="left:812.8px;top:1132.8px;height:98.7px"></div>
<div class="g" style="left:865px;top:1132.8px;height:98.7px"></div>
<div class="g" style="left:917.2px;top:1132.8px;height:98.7px"></div>
<div class="g" style="left:969.5px;top:1132.8px;height:98.7px"></div>
<div class="g" style="left:1021.8px;top:1132.8px;height:98.7px"></div>
<div class="g" style="left:1074px;top:1132.8px;height:98.7px"></div>
<div class="g" style="left:1126.2px;top:1132.8px;height:98.7px"></div>
<div class="g" style="left:1178.5px;top:1132.8px;height:98.7px"></div>
<div class="g" style="left:1230.8px;top:1132.8px;height:98.7px"></div>
<div class="g" style="left:1283px;top:1132.8px;height:98.7px"></div>
<div class="bar" style="left:656.5px;top:1137.1px;width:178.5px;height:41.3px;background:#6958d5"></div>
<div style="position:absolute;left:604.40px;top:1146.24px;font-size:21.8px;line-height:21.8px;font-weight:bold;white-space:nowrap;color:#000;transform:scaleX(0.97);transform-origin:0 0;">2020</div>
<div style="position:absolute;left:658.65px;top:1145.94px;font-size:21.8px;line-height:21.8px;font-weight:bold;white-space:nowrap;color:#fff;transform:scaleX(0.955);transform-origin:0 0;">17.03%</div>
<div class="bar" style="left:656.5px;top:1183.3px;width:276.2px;height:41.4px;background:#a592c2"></div>
<div style="position:absolute;left:604.19px;top:1192.49px;font-size:21.8px;line-height:21.8px;font-weight:bold;white-space:nowrap;color:#000;transform:scaleX(0.97);transform-origin:0 0;">2016</div>
<div style="position:absolute;left:659.28px;top:1192.19px;font-size:21.8px;line-height:21.8px;font-weight:bold;white-space:nowrap;color:#000;transform:scaleX(0.955);transform-origin:0 0;">26.39%</div>
<div class="ax" style="left:655.8px;top:1132.8px;height:98.7px"></div>
</div>
</body></html>
